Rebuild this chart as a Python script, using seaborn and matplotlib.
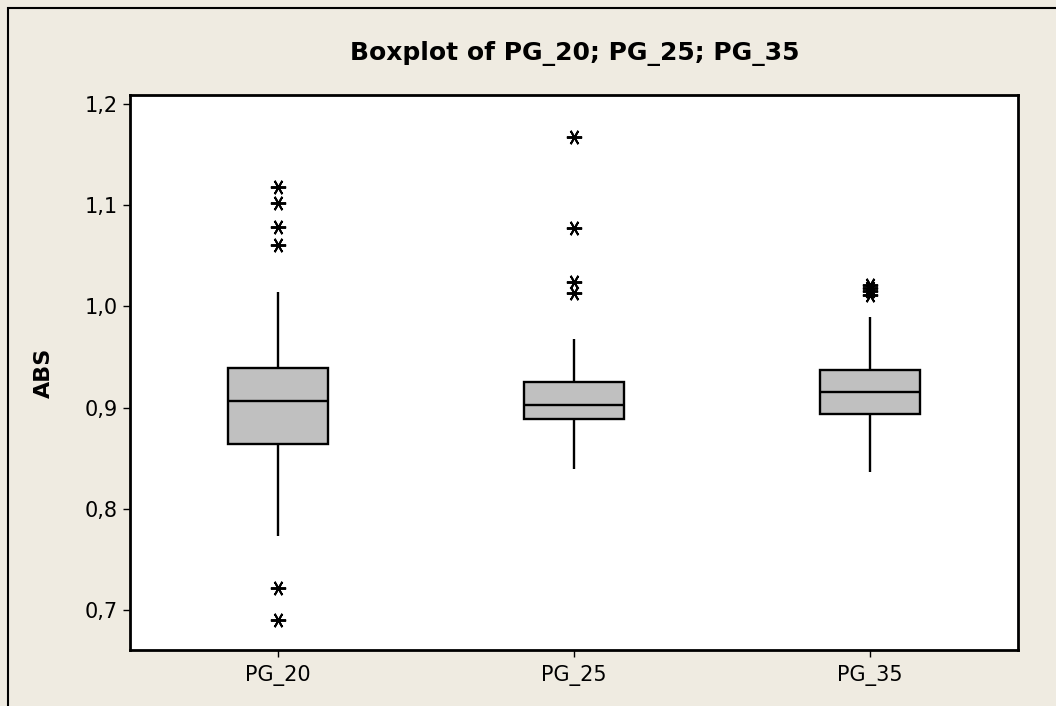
import matplotlib
matplotlib.use("Agg")
import matplotlib.pyplot as plt
from matplotlib.patches import Rectangle
from matplotlib.ticker import FuncFormatter
import numpy as np
import pandas as pd
import seaborn as sns

# ---- data (repeated quartile values stand in for the hidden samples) ----
categories = ["PG_20", "PG_25", "PG_35"]

pg_20 = [0.690, 0.722, 0.773, 0.864, 0.864, 0.864, 0.880, 0.890, 0.900, 0.907,
         0.907, 0.915, 0.925, 0.935, 0.939, 0.939, 1.014, 1.061, 1.078, 1.102, 1.118]
pg_25 = [0.839, 0.889, 0.889, 0.889, 0.889, 0.889, 0.893, 0.897, 0.900, 0.903,
         0.903, 0.910, 0.915, 0.920, 0.925, 0.925, 0.968, 1.013, 1.024, 1.077, 1.167]
pg_35 = [0.836, 0.894, 0.894, 0.894, 0.894, 0.894, 0.900, 0.905, 0.910, 0.915,
         0.915, 0.922, 0.928, 0.933, 0.937, 0.937, 0.990, 1.011, 1.015, 1.018, 1.021]

y_ticks = [0.7, 0.8, 0.9, 1.0, 1.1, 1.2]
title = "Boxplot of PG_20; PG_25; PG_35"
y_label = "ABS"

df = pd.DataFrame({
    "group": [categories[0]] * len(pg_20) + [categories[1]] * len(pg_25) + [categories[2]] * len(pg_35),
    "ABS": pg_20 + pg_25 + pg_35,
})

# ---- style ----
sns.set_style("ticks")
plt.rcParams["font.family"] = ["DejaVu Sans"]
plt.rcParams["text.color"] = "black"
plt.rcParams["axes.labelcolor"] = "black"

W, H = 1056, 706
bg = "#EFEBE1"
fig = plt.figure(figsize=(W / 100, H / 100), dpi=100, facecolor=bg)
ax = fig.add_axes([130 / W, 1 - 650 / H, 888 / W, 555 / H])
ax.set_facecolor("white")

sns.boxplot(
    data=df, x="group", y="ABS", order=categories, ax=ax,
    width=0.34, color="#C0C0C0", saturation=1, linecolor="black", linewidth=1.7,
    showcaps=False, whis=1.5,
    flierprops=dict(marker=(6, 2, 90), markersize=11, markeredgecolor="black",
                    markerfacecolor="black", markeredgewidth=1.4, linestyle="none"),
)

ax.set_xlim(-0.5, 2.5)
ax.set_ylim(0.6605, 1.2089)
ax.set_yticks(y_ticks)
ax.yaxis.set_major_formatter(FuncFormatter(lambda v, p: f"{v:.1f}".replace(".", ",")))
ax.set_xlabel("")
ax.set_ylabel(y_label, fontsize=16, fontweight="bold", labelpad=22, color="black")
ax.tick_params(axis="both", direction="out", length=5, width=1, color="black",
               labelsize=15, labelcolor="black", pad=4)
ax.tick_params(axis="x", pad=6)
for s in ax.spines.values():
    s.set_visible(True)
    s.set_linewidth(2)
    s.set_color("black")

fig.text(575 / W, 1 - 54 / H, title, ha="center", va="center", fontsize=18,
         fontweight="bold", color="black")

fig.patches.append(Rectangle((8 / W, -0.5), 2, 1 - 8 / H + 0.5, transform=fig.transFigure,
                             fill=False, edgecolor="black", linewidth=1.5, zorder=-1))

fig.savefig("out.png", dpi=100, facecolor=bg)
